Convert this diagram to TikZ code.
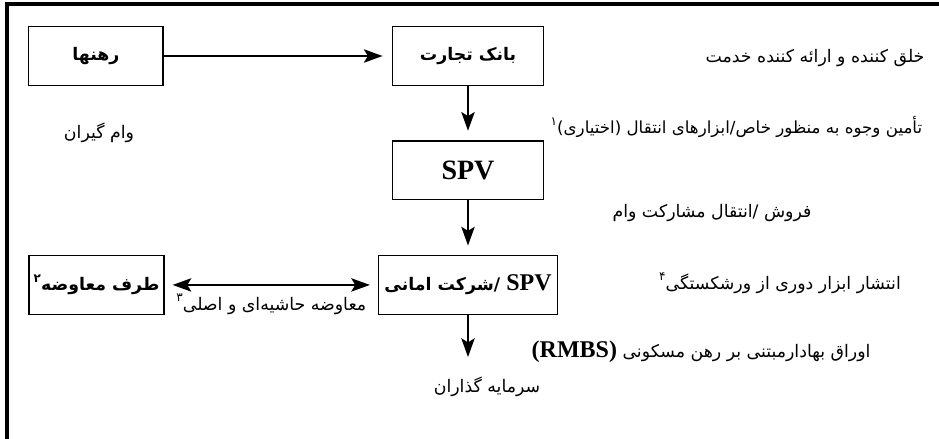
\documentclass[tikz,border=0pt]{standalone}
\usepackage{fontspec}
\newfontfamily\persianfont[Script=Arabic]{DejaVu Sans}
\newfontfamily\latinfont{Liberation Serif}
\TeXXeTstate=1
\usetikzlibrary{positioning}
\usetikzlibrary{arrows.meta}
\newcommand{\supnum}[1]{\raisebox{.9ex}{\fontsize{9}{10}\selectfont #1}}

\begin{document}
\begin{tikzpicture}[x=0.75pt,y=-0.75pt,>={Stealth[length=14pt,width=10pt,inset=3pt]},
  node distance=40.5pt,
  party/.style={draw,line width=1.1pt,minimum width=101pt,minimum height=44pt,
    font=\persianfont\bfseries\fontsize{13}{15}\selectfont},
  note/.style={font=\persianfont\fontsize{13}{15}\selectfont},
  flow/.style={line width=1.5pt,shorten >=7pt}]
  \useasboundingbox (0,0) rectangle (939,439);
  \draw[line width=2.4pt] (7,439) -- (7,4) -- (939,4);

  \node[party,minimum width=113pt] (Bank)   at (468,56) {\beginR بانک تجارت\endR};
  \node[party] (Borrowers) [left=171pt of Bank] {\beginR رهنها\endR};
  \node[party,minimum width=113pt] (SPV)    [below=of Bank]
     {\latinfont\bfseries\fontsize{21}{23}\selectfont SPV};
  \node[party,minimum width=134pt] (Trust)  [below=41pt of SPV]
     {\beginR{\latinfont\bfseries\fontsize{18}{20}\selectfont SPV} /شرکت امانی\endR};
  \node[party] (Swap) [left=160pt of Trust] {\beginR طرف معاوضه\supnum{۲}\endR};
  \coordinate (Out) at (468,357);

  \node[note] (BorrowersNote) at (99,133) {\beginR وام گیران\endR};
  \node[note] (Creator)   at (815,58)  {\beginR خلق کننده و ارائه کننده خدمت\endR};
  \node[note,anchor=west,font=\persianfont\fontsize{12.5}{15}\selectfont] (Funding) at (546,127)
     {\beginR تأمین وجوه به منظور خاص/ابزارهای انتقال (اختیاری)\supnum{۱}\endR};
  \node[note] (Sale)      at (712,213) {\beginR فروش /انتقال مشارکت وام\endR};
  \node[note] (Remote)    at (780,283) {\beginR انتشار ابزار دوری از ورشکستگی\supnum{۴}\endR};
  \node[note,anchor=west] (Bonds) at (527,352) {\beginR اوراق بهادارمبتنی بر رهن مسکونی
     {\latinfont\bfseries\fontsize{18}{20}\selectfont (RMBS)}\endR};
  \node[note] (Investors) at (487,387) {\beginR سرمایه گذاران\endR};

  \path[->,flow]
     (Borrowers) edge (Bank)
     (Bank)      edge (SPV)
     (SPV)       edge (Trust)
     (Trust)     edge [shorten >=0pt] (Out);
  \path[<->,flow,shorten <=6pt,shorten >=6pt]
     (Swap) edge node[note,below=3pt] {\beginR معاوضه حاشیه‌ای و اصلی\supnum{۳}\endR} (Trust);
\end{tikzpicture}
\end{document}
